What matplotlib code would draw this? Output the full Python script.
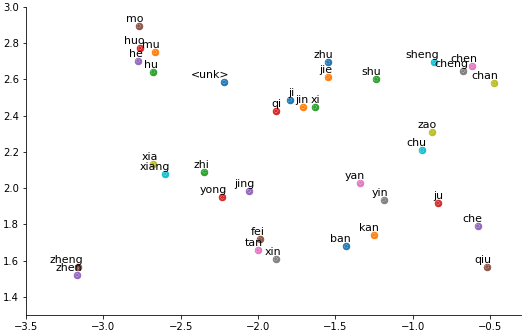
#!/usr/bin/env python3
"""2-D embedding of pinyin syllables, one labelled point per word."""

import matplotlib

matplotlib.use("Agg")
import matplotlib.pyplot as plt

# ---------------------------------------------------------------------------
# Data
# ---------------------------------------------------------------------------

labels = [
    "<unk>", "mu", "hu", "huo", "he", "mo", "chen", "cheng", "chan", "sheng",
    "zhu", "jie", "shu", "qi", "jing", "qiu", "yan", "yin", "zao", "chu",
    "ji", "jin", "xi", "yong", "che", "zheng", "tan", "xin", "xia", "xiang",
    "ban", "kan", "zhi", "ju", "zhen", "fei",
]
xs = [
    -2.218, -2.666, -2.681, -2.763, -2.778, -2.770, -0.615, -0.673, -0.477, -0.861,
    -1.550, -1.550, -1.239, -1.882, -2.057, -0.522, -1.339, -1.188, -0.878, -0.942,
    -1.795, -1.707, -1.632, -2.231, -0.580, -3.164, -2.002, -1.884, -2.681, -2.601,
    -1.431, -1.248, -2.347, -0.835, -3.168, -1.990,
]
ys = [
    2.586, 2.752, 2.643, 2.774, 2.704, 2.895, 2.674, 2.648, 2.579, 2.698,
    2.695, 2.615, 2.601, 2.426, 1.986, 1.567, 2.031, 1.936, 2.311, 2.208,
    2.487, 2.448, 2.448, 1.949, 1.791, 1.567, 1.657, 1.609, 2.134, 2.079,
    1.679, 1.742, 2.092, 1.918, 1.521, 1.718,
]

# ---------------------------------------------------------------------------
# Plot
# ---------------------------------------------------------------------------

fig = plt.figure(figsize=(524 / 72, 332 / 72), dpi=72)
ax = fig.add_axes([26 / 524, 17 / 332, 495 / 524, 308 / 332])

for label, x, y in zip(labels, xs, ys):
    ax.scatter(x, y, s=42)
    # faint white dotted ring inside each marker
    ax.scatter(x, y, s=12, facecolors="none", edgecolors="white",
               linewidths=0.6, linestyle=":")
    ax.annotate(
        label,
        xy=(x, y),
        xytext=(5, 2),
        textcoords="offset points",
        ha="right",
        va="bottom",
        fontsize=11,
    )

ax.set_xlim(-3.5, -0.30)
ax.set_ylim(1.3, 3.0)
ax.set_xticks([-3.5, -3.0, -2.5, -2.0, -1.5, -1.0, -0.5])
ax.set_yticks([1.4, 1.6, 1.8, 2.0, 2.2, 2.4, 2.6, 2.8, 3.0])
ax.tick_params(labelsize=10)
ax.spines["top"].set_visible(False)
ax.spines["right"].set_visible(False)

fig.savefig("out.png", dpi=72)
